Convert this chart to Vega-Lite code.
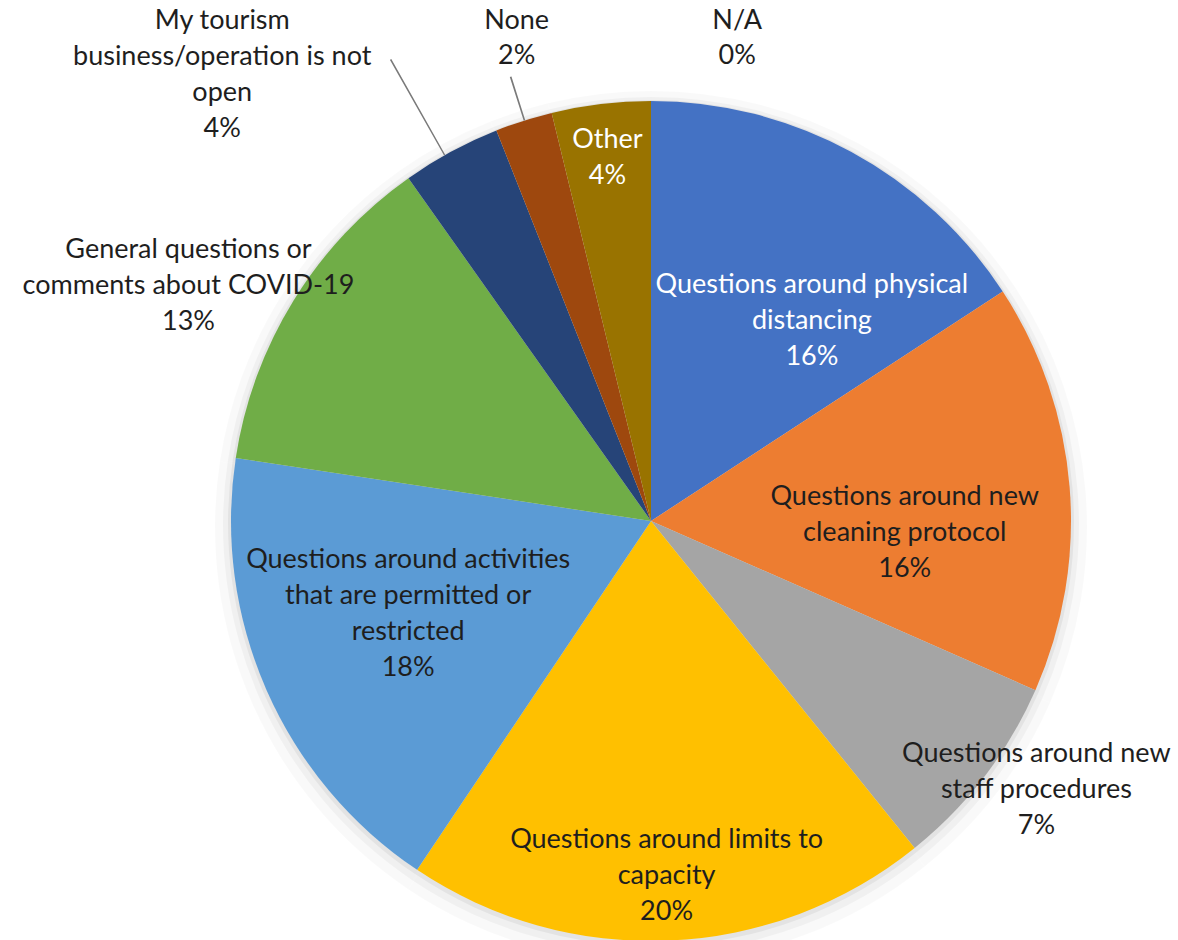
{
  "$schema": "https://vega.github.io/schema/vega-lite/v6.json",
  "width": 840,
  "height": 840,
  "autosize": {"type": "none"},
  "padding": {"left": 231, "top": 101, "right": 107, "bottom": 0},
  "background": "white",
  "config": {"view": {"stroke": null}},
  "data": {
    "values": [
      {"category": "Questions around physical distancing", "label": "Questions around physical\ndistancing\n16%", "value": 15.8, "order": 1},
      {"category": "Questions around new cleaning protocol", "label": "Questions around new\ncleaning protocol\n16%", "value": 15.8, "order": 2},
      {"category": "Questions around new staff procedures", "label": "Questions around new\nstaff procedures\n7%", "value": 7.6, "order": 3},
      {"category": "Questions around limits to capacity", "label": "Questions around limits to\ncapacity\n20%", "value": 20.2, "order": 4},
      {"category": "Questions around activities that are permitted or restricted", "label": "Questions around activities\nthat are permitted or\nrestricted\n18%", "value": 18.0, "order": 5},
      {"category": "General questions or comments about COVID-19", "label": "General questions or\ncomments about COVID-19\n13%", "value": 12.8, "order": 6},
      {"category": "My tourism business/operation is not open", "label": "My tourism\nbusiness/operation is not\nopen\n4%", "value": 3.8, "order": 7},
      {"category": "None", "label": "None\n2%", "value": 2.2, "order": 8},
      {"category": "N/A", "label": "N/A\n0%", "value": 0, "order": 9},
      {"category": "Other", "label": "Other\n4%", "value": 3.8, "order": 10}
    ]
  },
  "encoding": {
    "theta": {"field": "value", "type": "quantitative", "stack": true, "scale": {"domain": [0, 100]}},
    "order": {"field": "order", "type": "quantitative"}
  },
  "layer": [
    {"mark": {"type": "arc", "fill": "#000000", "opacity": 0.025, "yOffset": 6}, "encoding": {"radius": {"value": 436}}},
    {"mark": {"type": "arc", "fill": "#000000", "opacity": 0.035, "yOffset": 4}, "encoding": {"radius": {"value": 428}}},
    {"mark": {"type": "arc", "fill": "#000000", "opacity": 0.05, "yOffset": 2}, "encoding": {"radius": {"value": 423}}},
    {
      "mark": {"type": "arc"},
      "encoding": {
        "radius": {"value": 420},
        "color": {
          "field": "category",
          "type": "nominal",
          "legend": null,
          "scale": {
            "domain": ["Questions around physical distancing", "Questions around new cleaning protocol", "Questions around new staff procedures", "Questions around limits to capacity", "Questions around activities that are permitted or restricted", "General questions or comments about COVID-19", "My tourism business/operation is not open", "None", "N/A", "Other"],
            "range": ["#4472C4", "#ED7D31", "#A5A5A5", "#FFC000", "#5B9BD5", "#70AD47", "#264478", "#9E480E", "#636363", "#997300"]
          }
        }
      }
    },
    {
      "transform": [
        {"stack": "value", "groupby": [], "sort": [{"field": "order", "order": "ascending"}], "as": ["s0", "s1"]},
        {"filter": "datum.order === 7"},
        {"calculate": "(datum.s0 + datum.s1) / 2 - 0.3", "as": "m0"},
        {"calculate": "datum.m0 + 0.05", "as": "m1"}
      ],
      "mark": {"type": "arc", "fill": "#7a7a7a"},
      "encoding": {
        "theta": {"field": "m0", "type": "quantitative", "stack": null},
        "theta2": {"field": "m1"},
        "radius": {"value": 420},
        "radius2": {"value": 530}
      }
    },
    {
      "transform": [
        {"stack": "value", "groupby": [], "sort": [{"field": "order", "order": "ascending"}], "as": ["s0", "s1"]},
        {"filter": "datum.order === 8"},
        {"calculate": "(datum.s0 + datum.s1) / 2", "as": "m0"},
        {"calculate": "datum.m0 + 0.06", "as": "m1"}
      ],
      "mark": {"type": "arc", "fill": "#7a7a7a"},
      "encoding": {
        "theta": {"field": "m0", "type": "quantitative", "stack": null},
        "theta2": {"field": "m1"},
        "radius": {"value": 420},
        "radius2": {"value": 466}
      }
    },
    {
      "mark": {"type": "text", "font": "Lato", "fontSize": 27, "lineHeight": 36, "lineBreak": "\n", "color": "#ffffff", "align": "center", "baseline": "middle", "thetaOffset": 0.18, "dy": -36},
      "encoding": {"radius": {"value": 257}, "detail": {"field": "category"}, "text": {"condition": {"test": "datum.order === 1", "field": "label"}, "value": ""}}
    },
    {
      "mark": {"type": "text", "font": "Lato", "fontSize": 27, "lineHeight": 36, "lineBreak": "\n", "color": "#1e1e1e", "align": "center", "baseline": "middle", "thetaOffset": 0.129, "dy": -36},
      "encoding": {"radius": {"value": 254}, "detail": {"field": "category"}, "text": {"condition": {"test": "datum.order === 2", "field": "label"}, "value": ""}}
    },
    {
      "mark": {"type": "text", "font": "Lato", "fontSize": 27, "lineHeight": 36, "lineBreak": "\n", "color": "#1e1e1e", "align": "center", "baseline": "middle", "thetaOffset": -0.044, "dy": -36},
      "encoding": {"radius": {"value": 470}, "detail": {"field": "category"}, "text": {"condition": {"test": "datum.order === 3", "field": "label"}, "value": ""}}
    },
    {
      "mark": {"type": "text", "font": "Lato", "fontSize": 27, "lineHeight": 36, "lineBreak": "\n", "color": "#1e1e1e", "align": "center", "baseline": "middle", "dy": -36},
      "encoding": {"radius": {"value": 355}, "detail": {"field": "category"}, "text": {"condition": {"test": "datum.order === 4", "field": "label"}, "value": ""}}
    },
    {
      "mark": {"type": "text", "font": "Lato", "fontSize": 27, "lineHeight": 36, "lineBreak": "\n", "color": "#1e1e1e", "align": "center", "baseline": "middle", "thetaOffset": 0.049, "dy": -54},
      "encoding": {"radius": {"value": 260}, "detail": {"field": "category"}, "text": {"condition": {"test": "datum.order === 5", "field": "label"}, "value": ""}}
    },
    {
      "mark": {"type": "text", "font": "Lato", "fontSize": 27, "lineHeight": 36, "lineBreak": "\n", "color": "#1e1e1e", "align": "center", "baseline": "middle", "thetaOffset": -0.082, "dy": -36},
      "encoding": {"radius": {"value": 519}, "detail": {"field": "category"}, "text": {"condition": {"test": "datum.order === 6", "field": "label"}, "value": ""}}
    },
    {
      "mark": {"type": "text", "font": "Lato", "fontSize": 27, "lineHeight": 36, "lineBreak": "\n", "color": "#1e1e1e", "align": "center", "baseline": "middle", "thetaOffset": -0.272, "dy": -56},
      "encoding": {"radius": {"value": 617}, "detail": {"field": "category"}, "text": {"condition": {"test": "datum.order === 7", "field": "label"}, "value": ""}}
    },
    {
      "mark": {"type": "text", "font": "Lato", "fontSize": 27, "lineHeight": 35, "lineBreak": "\n", "color": "#1e1e1e", "align": "center", "baseline": "middle", "thetaOffset": 0.038, "dy": -14},
      "encoding": {"radius": {"value": 504}, "detail": {"field": "category"}, "text": {"condition": {"test": "datum.order === 8", "field": "label"}, "value": ""}}
    },
    {
      "mark": {"type": "text", "font": "Lato", "fontSize": 27, "lineHeight": 35, "lineBreak": "\n", "color": "#1e1e1e", "align": "center", "baseline": "middle", "thetaOffset": 0.414, "dy": -14},
      "encoding": {"radius": {"value": 494}, "detail": {"field": "category"}, "text": {"condition": {"test": "datum.order === 9", "field": "label"}, "value": ""}}
    },
    {
      "mark": {"type": "text", "font": "Lato", "fontSize": 27, "lineHeight": 36, "lineBreak": "\n", "color": "#ffffff", "align": "center", "baseline": "middle", "dy": -18},
      "encoding": {"radius": {"value": 366}, "detail": {"field": "category"}, "text": {"condition": {"test": "datum.order === 10", "field": "label"}, "value": ""}}
    }
  ]
}
